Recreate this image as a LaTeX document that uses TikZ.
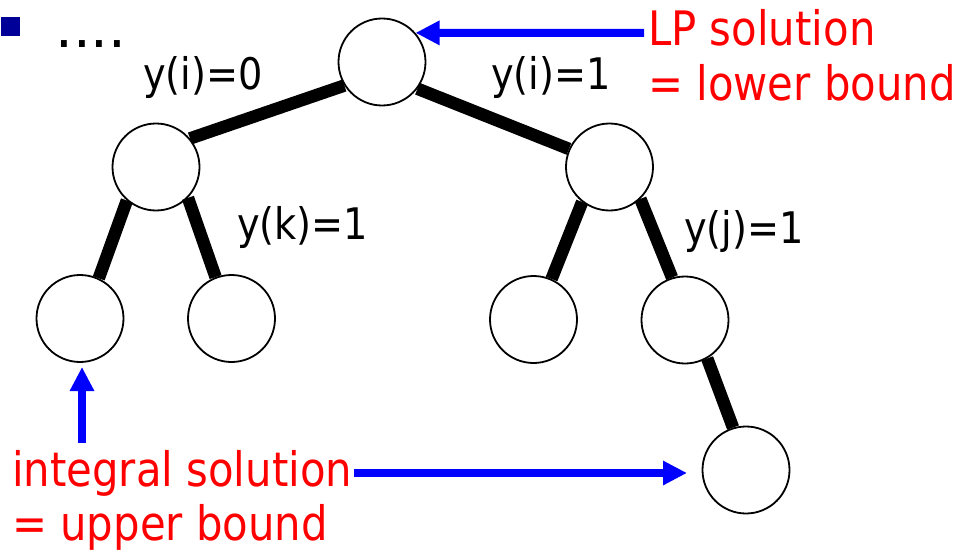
\documentclass[tikz,border=0pt]{standalone}
\usepackage{fontspec}
\setmainfont[FakeStretch=0.88]{DejaVu Sans}
\newfontfamily\plainfont{DejaVu Sans}
\usetikzlibrary{arrows.meta}
\definecolor{bulletblue}{RGB}{0,0,153}
\tikzset{
  tnode/.style={circle, draw=black, line width=1.8pt, fill=white, minimum size=87pt, inner sep=0pt},
  tedge/.style={line width=12.5pt, line cap=butt, black},
  lab/.style={anchor=base west, inner sep=0pt, font=\fontsize{43.5}{50}\selectfont},
  redlab/.style={anchor=base west, inner sep=0pt, text=red, font=\fontsize{47.5}{54}\selectfont},
  bluearrow/.style={line width=8pt, blue, -{Triangle[length=24pt,width=23pt]}}
}
\begin{document}
\begin{tikzpicture}[x=1pt,y=-1pt]
\useasboundingbox (0,0) rectangle (961,551);
% bullet
\fill[bulletblue] (1,17) rectangle (20,36);
\node[anchor=base west, inner sep=0pt, font=\plainfont\fontsize{56}{60}\selectfont] (dots) at (55,48) {....};
% nodes
\node[tnode] (root) at (382,62) {};
\node[tnode] (L) at (156,167) {};
\node[tnode] (R) at (609.5,167) {};
\node[tnode] (LL) at (80,318.5) {};
\node[tnode] (LR) at (231.5,318.5) {};
\node[tnode] (RL) at (533.5,319.5) {};
\node[tnode] (RR) at (685,320) {};
\node[tnode] (B) at (746,470) {};
% edges
\draw[tedge] (root.212) -- (L.40);
\draw[tedge] (root.323) -- (R.156);
\draw[tedge] (L.229) -- (LL.65);
\draw[tedge] (L.316) -- (LR.111);
\draw[tedge] (R.232) -- (RL.66);
\draw[tedge] (R.314) -- (RR.107);
\draw[tedge] (RR.300) -- (B.107);
% labels
\node[lab] (l1) at (143,89) {y(i)=0};
\node[lab] (l2) at (491,89) {y(i)=1};
\node[lab] (l3) at (237,239) {y(k)=1};
\node[lab] (l4) at (684,243) {y(j)=1};
% red texts
\node[redlab] (lp1) at (648,46) {LP solution};
\node[redlab] (lp2) at (648,100) {= lower bound};
\node[redlab] (is1) at (12,486) {integral solution};
\node[redlab] (is2) at (12,540) {= upper bound};
% arrows
\coordinate (a1) at (644,33);
\draw[bluearrow] (a1) -- (root.41);
\coordinate (a2) at (82,443);
\coordinate (a2t) at (82,367);
\draw[bluearrow] (a2) -- (a2t);
\coordinate (a3) at (354,473);
\coordinate (a3t) at (687,473);
\draw[bluearrow] (a3) -- (a3t);
\end{tikzpicture}
\end{document}
